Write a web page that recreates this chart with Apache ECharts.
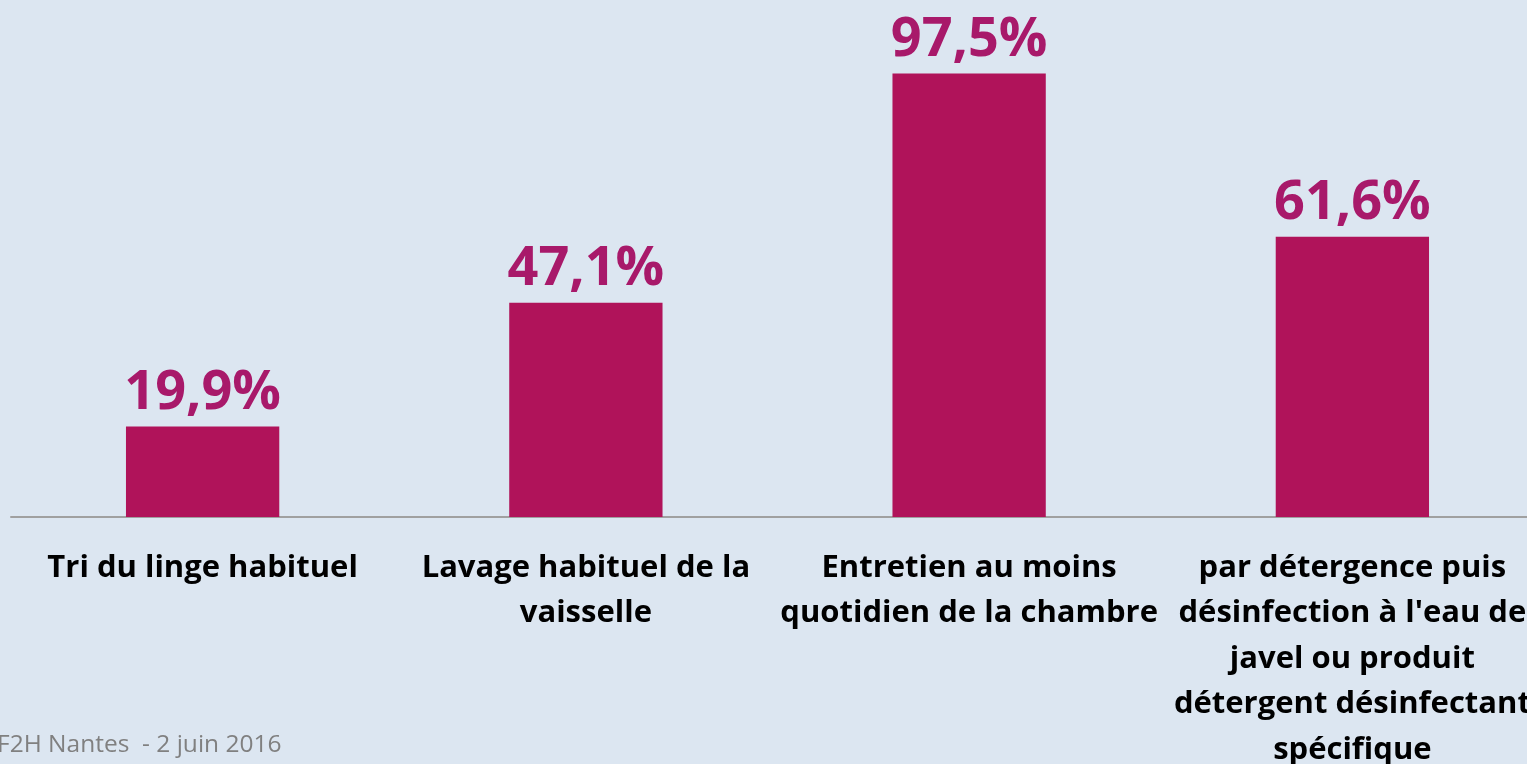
<html>
<head>
    <meta charset="utf-8">
    <script src="https://cdn.jsdelivr.net/npm/echarts@6/dist/echarts.min.js"></script>
    <title>F2H Nantes</title>
    <style>
        html, body { margin: 0; padding: 0; background: #dce6f1; }
    </style>
</head>
<body>
    <div id="main" style="width: 1527px; height: 764px;"></div>
    <script>
        // categories and values
        const categories = [
            'Tri du linge habituel',
            'Lavage habituel de la\nvaisselle',
            'Entretien au moins\nquotidien de la chambre',
            'par détergence puis\ndésinfection à l\'eau de\njavel ou produit\ndétergent désinfectant\nspécifique'
        ];
        const values = [19.9, 47.1, 97.5, 61.6];
        const footer = 'F2H Nantes  - 2 juin 2016';

        const myChart = echarts.init(document.getElementById('main'));
        const option = {
            backgroundColor: '#dce6f1',
            animation: false,
            grid: {
                left: 11,
                top: 62,
                width: 1533,
                height: 455,
                outerBoundsMode: 'none'
            },
            xAxis: {
                type: 'category',
                data: categories,
                axisLine: { lineStyle: { color: '#a0a0a0', width: 2 } },
                axisTick: { show: false },
                axisLabel: {
                    interval: 0,
                    margin: 28,
                    color: '#000',
                    fontFamily: 'Open Sans',
                    fontWeight: 'bold',
                    fontSize: 31,
                    lineHeight: 45.5
                }
            },
            yAxis: {
                type: 'value',
                min: 0,
                max: 100,
                show: false
            },
            series: [{
                type: 'bar',
                data: values,
                barWidth: '40%',
                itemStyle: { color: '#b0135a' },
                label: {
                    show: true,
                    position: 'top',
                    distance: 6,
                    color: '#a8196a',
                    fontFamily: 'Open Sans',
                    fontWeight: 'bold',
                    fontSize: 54,
                    formatter: (p) => p.value.toFixed(1).replace('.', ',') + '%'
                }
            }],
            graphic: [{
                type: 'text',
                x: -3,
                y: 745,
                style: {
                    text: footer,
                    fill: '#808080',
                    font: '24.5px "Open Sans"',
                    textVerticalAlign: 'middle'
                }
            }]
        };
        myChart.setOption(option);
    </script>
</body>
</html>
